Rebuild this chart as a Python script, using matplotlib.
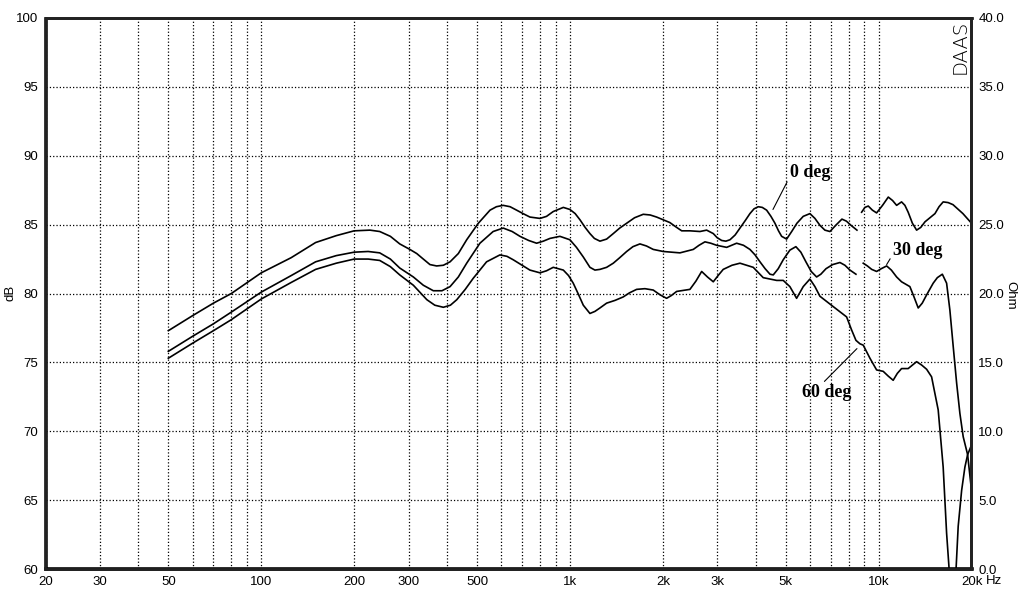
import numpy as np
import matplotlib.pyplot as plt

# frequency response readings (Hz, dB); nan marks a break in the trace
curve_0deg = [
    (50, 77.3), (60, 78.4), (70, 79.3), (80, 80.0), (100, 81.5), (125, 82.6),
    (150, 83.7), (175, 84.2), (200, 84.55), (225, 84.6), (242, 84.5), (262, 84.15),
    (281, 83.6), (303, 83.2), (319, 82.9), (335, 82.5), (352, 82.1), (370, 82.0),
    (389, 82.05), (409, 82.3), (435, 82.9), (463, 83.9), (505, 85.1), (551, 86.05),
    (578, 86.3), (608, 86.4), (640, 86.3), (672, 86.05), (705, 85.8), (742, 85.55),
    (800, 85.45), (840, 85.6), (883, 85.95), (952, 86.25), (1000, 86.1), (1040, 85.8),
    (1078, 85.35), (1120, 84.8), (1161, 84.35), (1200, 84.0), (1251, 83.8), (1315, 83.95),
    (1382, 84.35), (1450, 84.75), (1527, 85.1), (1620, 85.5), (1728, 85.75), (1820, 85.7),
    (1909, 85.55), (2108, 85.15), (2200, 84.85), (2302, 84.55), (2448, 84.55), (2638, 84.5),
    (2773, 84.6), (2914, 84.35), (3000, 84.05), (3102, 83.85), (3200, 83.8), (3300, 83.9),
    (3430, 84.25), (3556, 84.75), (3700, 85.3), (3830, 85.8), (3950, 86.15), (4076, 86.3),
    (4200, 86.25), (4338, 86.05), (4480, 85.6), (4616, 85.1), (4740, 84.55), (4852, 84.15),
    (5036, 83.95), (5230, 84.5), (5438, 85.1), (5700, 85.6), (5992, 85.8), (6220, 85.45),
    (6456, 84.95), (6700, 84.6), (6956, 84.5), (7300, 85.0), (7608, 85.4), (7870, 85.25),
    (8137, 84.95), (8510, 84.6), (8650, np.nan), (8811, 85.9), (9030, 86.25), (9258, 86.35),
    (9550, 86.05), (9854, 85.85), (10300, 86.4), (10750, 87.0), (11100, 86.75), (11440, 86.4),
    (11870, 86.65), (12170, 86.4), (12470, 85.9), (12870, 85.1), (13280, 84.6), (13700, 84.8),
    (14130, 85.2), (15230, 85.8), (15700, 86.3), (16190, 86.65), (16800, 86.6), (17420, 86.45),
    (18760, 85.8), (20000, 85.1),
]

curve_30deg = [
    (50, 75.8), (60, 76.9), (70, 77.8), (80, 78.65), (100, 80.1), (125, 81.3),
    (150, 82.3), (175, 82.75), (200, 83.0), (222, 83.05), (242, 82.95), (262, 82.5),
    (281, 81.85), (311, 81.2), (335, 80.6), (361, 80.2), (385, 80.2), (409, 80.5),
    (435, 81.2), (463, 82.2), (511, 83.65), (564, 84.5), (608, 84.75), (650, 84.5),
    (689, 84.15), (735, 83.85), (780, 83.65), (820, 83.8), (862, 84.0), (928, 84.15),
    (1000, 83.9), (1050, 83.35), (1105, 82.65), (1161, 81.9), (1205, 81.7), (1251, 81.75),
    (1315, 81.9), (1382, 82.2), (1450, 82.6), (1527, 83.05), (1600, 83.4), (1686, 83.6),
    (1770, 83.45), (1862, 83.2), (2006, 83.05), (2272, 82.95), (2510, 83.2), (2620, 83.5),
    (2738, 83.75), (2860, 83.65), (2988, 83.5), (3220, 83.35), (3468, 83.65), (3650, 83.5),
    (3830, 83.2), (3980, 82.8), (4128, 82.3), (4290, 81.8), (4448, 81.4), (4558, 81.35),
    (4730, 81.8), (4910, 82.45), (5160, 83.15), (5396, 83.4), (5600, 83.0), (5815, 82.3),
    (6050, 81.6), (6298, 81.2), (6500, 81.4), (6755, 81.8), (7100, 82.1), (7496, 82.25),
    (7780, 82.05), (8076, 81.7), (8446, 81.4), (8700, np.nan), (8918, 82.2), (9200, 82.0),
    (9500, 81.75), (9854, 81.6), (10200, 81.8), (10620, 82.0), (11000, 81.7), (11440, 81.2),
    (11870, 80.85), (12630, 80.5), (13000, 79.8), (13440, 78.95), (13850, 79.3), (14310, 79.9),
    (15030, 80.75), (15500, 81.15), (16090, 81.4), (16610, 80.75), (17020, 78.8), (17450, 76.15),
    (17900, 73.5), (18340, 71.3), (18800, 69.6), (19430, 68.3), (20000, 65.7),
]

curve_60deg = [
    (50, 75.3), (60, 76.4), (70, 77.3), (80, 78.1), (100, 79.6), (125, 80.8),
    (150, 81.75), (175, 82.2), (200, 82.5), (222, 82.5), (242, 82.4), (262, 81.95),
    (281, 81.35), (311, 80.6), (344, 79.55), (365, 79.15), (389, 79.0), (410, 79.15),
    (430, 79.55), (458, 80.3), (486, 81.1), (537, 82.3), (593, 82.8), (625, 82.7),
    (655, 82.45), (700, 82.05), (742, 81.7), (800, 81.5), (840, 81.65), (883, 81.9),
    (952, 81.7), (990, 81.3), (1025, 80.75), (1065, 79.95), (1105, 79.15), (1161, 78.55),
    (1205, 78.7), (1251, 78.95), (1315, 79.3), (1400, 79.5), (1488, 79.75), (1560, 80.05),
    (1645, 80.3), (1750, 80.35), (1862, 80.25), (1960, 79.9), (2057, 79.65), (2130, 79.85),
    (2217, 80.15), (2448, 80.3), (2560, 80.9), (2672, 81.6), (2790, 81.2), (2914, 80.85),
    (3020, 81.3), (3138, 81.75), (3350, 82.05), (3556, 82.2), (3926, 81.9), (4229, 81.15),
    (4676, 80.95), (4910, 80.95), (5160, 80.5), (5425, 79.65), (5700, 80.5), (5992, 81.05),
    (6220, 80.5), (6456, 79.8), (7129, 79.05), (7878, 78.3), (8178, 77.35), (8446, 76.6),
    (8700, 76.35), (8918, 76.25), (9376, 75.3), (9854, 74.45), (10350, 74.35), (10750, 74.0),
    (11150, 73.7), (11500, 74.2), (11870, 74.55), (12470, 74.55), (13280, 75.05), (13800, 74.8),
    (14310, 74.5), (14850, 73.95), (15600, 71.55), (16190, 67.4), (16610, 62.6), (16900, 60.2),
    (17280, 55.0), (17760, 59.3), (18110, 63.1), (18580, 65.7), (19040, 67.4), (19430, 68.3),
    (20000, 69.0),
]

grid_freqs = [20, 30, 40, 50, 60, 70, 80, 90,
              100, 200, 300, 400, 500, 600, 700, 800, 900,
              1000, 2000, 3000, 4000, 5000, 6000, 7000, 8000, 9000,
              10000, 20000]
freq_labels = {20: "20", 30: "30", 50: "50", 100: "100", 200: "200", 300: "300",
               500: "500", 1000: "1k", 2000: "2k", 3000: "3k", 5000: "5k",
               10000: "10k", 20000: "20k"}
db_ticks = [60, 65, 70, 75, 80, 85, 90, 95, 100]
ohm_ticks = [0, 5, 10, 15, 20, 25, 30, 35, 40]

fig = plt.figure(figsize=(10.19, 6.05), dpi=100)
ax = fig.add_axes([45.5 / 1019, 1 - 569 / 605, 926 / 1019, 551 / 605])

for curve in (curve_0deg, curve_30deg, curve_60deg):
    f, db = zip(*curve)
    ax.plot(f, db, color="black", lw=1.2, solid_joinstyle="round")

ax.set_xscale("log")
ax.set_xlim(20, 20000)
ax.set_ylim(60, 100)
ax.set_xticks(grid_freqs)
ax.set_xticklabels([freq_labels.get(g, "") for g in grid_freqs])
ax.xaxis.set_minor_locator(plt.NullLocator())
ax.set_yticks(db_ticks)
ax.grid(True, ls=":", color="black", lw=0.9)
ax.tick_params(length=0, labelsize=9.5)
ax.tick_params(axis="x", pad=5)
ax.tick_params(axis="y", pad=5)
for lab in ax.get_xticklabels() + ax.get_yticklabels():
    lab.set_fontfamily("Liberation Sans")
for sp in ax.spines.values():
    sp.set_linewidth(2)
    sp.set_color("#222222")
ax.spines["bottom"].set_linewidth(2.6)
ax.spines["bottom"].set_color("black")

ax2 = ax.twinx()
ax2.set_ylim(0, 40)
ax2.set_yticks(ohm_ticks)
ax2.set_yticklabels([f"{v:.1f}" for v in ohm_ticks], fontfamily="Liberation Sans")
ax2.tick_params(length=0, labelsize=9.5, pad=5)
for sp in ax2.spines.values():
    sp.set_linewidth(2)
    sp.set_color("#222222")

fig.text(10 / 1019, 1 - 293 / 605, "dB", rotation=90, ha="center", va="center",
         fontsize=9.5, fontfamily="Liberation Sans")
fig.text(1010 / 1019, 1 - 295 / 605, "Ohm", rotation=270, ha="center", va="center",
         fontsize=9.5, fontfamily="Liberation Sans")
fig.text(986 / 1019, 1 - 581 / 605, "Hz", ha="left", va="center",
         fontsize=9.5, fontfamily="Liberation Sans")
ax.text(0.9985, 0.997, "DAAS", rotation=90, ha="right", va="top", transform=ax.transAxes,
        fontsize=14, fontfamily="DejaVu Sans", fontweight="light")

# curve labels
lab_kw = dict(fontsize=13, fontweight="bold", fontfamily="Liberation Serif",
              ha="left", va="center")
ax.annotate("0 deg", xy=(4548, 86.1), xytext=(5160, 88.8),
            arrowprops=dict(arrowstyle="-", lw=0.8, relpos=(0, 0.25),
                            shrinkA=0, shrinkB=0), **lab_kw)
ax.annotate("30 deg", xy=(10620, 82.1), xytext=(11130, 83.1),
            arrowprops=dict(arrowstyle="-", lw=0.8, relpos=(0, 0.3),
                            shrinkA=0, shrinkB=0), **lab_kw)
ax.annotate("60 deg", xy=(8510, 76.0), xytext=(5645, 72.8),
            arrowprops=dict(arrowstyle="-", lw=0.8, relpos=(0.4, 1),
                            shrinkA=0, shrinkB=0), **lab_kw)

fig.savefig("out.png", dpi=100)
